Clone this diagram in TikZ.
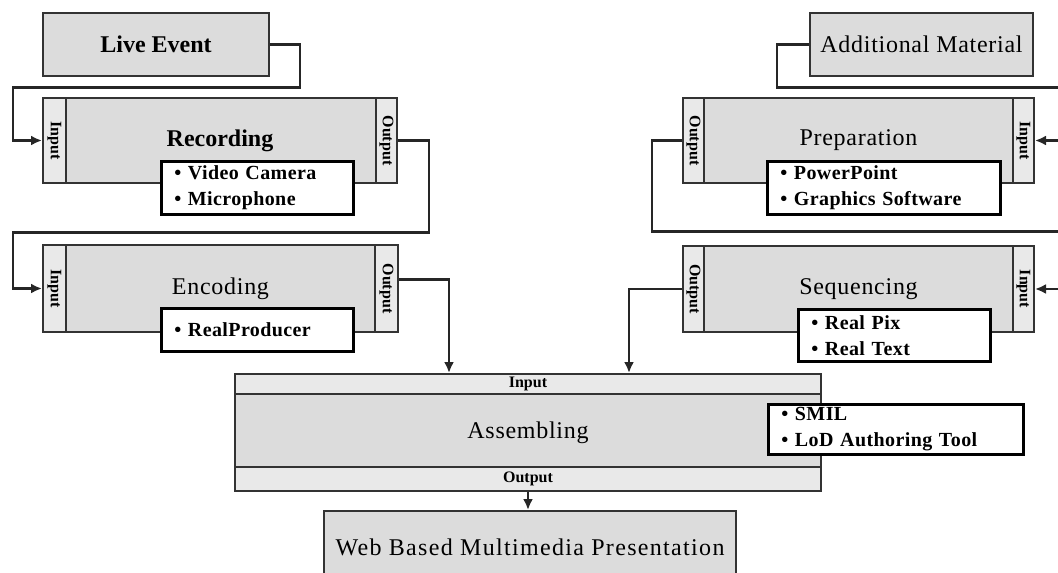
\documentclass[tikz,border=0pt]{standalone}
\usepackage{fontspec}
\usepackage{graphicx}
\setmainfont{Liberation Serif}
\usetikzlibrary{arrows.meta}
\definecolor{boxfill}{HTML}{DCDCDC}
\definecolor{stripfill}{HTML}{E9E9E9}
\definecolor{edge}{HTML}{333333}
\tikzset{
  box/.style={draw=edge, line width=2pt, fill=boxfill, anchor=north west, inner sep=0pt,
    font=\fontsize{24}{28}\selectfont\addfontfeature{LetterSpace=3}},
  strip/.style={draw=edge, line width=2pt, fill=stripfill, anchor=north west, inner sep=0pt,
    font=\bfseries\fontsize{16}{17}\selectfont},
  bullbox/.style={draw=black, line width=2.6pt, fill=white, anchor=north west, inner xsep=13pt,
    inner ysep=0pt, align=left, font=\bfseries\fontsize{20}{26}\selectfont\addfontfeature{LetterSpace=2}},
  conn/.style={draw=black!85, line width=2.6pt},
  arr/.style={conn, -{Latex[length=11pt,width=10pt]}},
}
\begin{document}
\begin{tikzpicture}[x=1pt,y=-1pt]
\useasboundingbox (0,0) rectangle (1058,573);
\clip (0,0) rectangle (1058,573);
% main boxes
\node[box, minimum width=226pt, minimum height=63pt, font=\bfseries\fontsize{24}{28}\selectfont] (live) at (42,12) {Live Event};
\node[box, minimum width=223pt, minimum height=63pt] (addmat) at (809,12) {Additional Material};
\node[box, minimum width=354pt, minimum height=85pt, font=\bfseries\fontsize{24}{28}\selectfont] (rec) at (42,97) {Recording};
\node[box, minimum width=355pt, minimum height=87pt] (enc) at (42,244) {Encoding};
\node[box, minimum width=351pt, minimum height=85pt] (prep) at (682,97) {Preparation};
\node[box, minimum width=351pt, minimum height=86pt] (seq) at (682,245) {Sequencing};
\node[box, minimum width=586pt, minimum height=117pt] (asm) at (234,373) {Assembling};
\node[box, minimum width=412pt, minimum height=72pt, font=\fontsize{24}{28}\selectfont\addfontfeature{LetterSpace=5.5}] (web) at (323,510) {Web Based Multimedia Presentation};
% strips
\node[strip, minimum width=23pt, minimum height=85pt] (recin) at (42,97) {\rotatebox{-90}{Input}};
\node[strip, minimum width=21pt, minimum height=85pt] (recout) at (375,97) {\rotatebox{-90}{Output}};
\node[strip, minimum width=23pt, minimum height=87pt] (encin) at (42,244) {\rotatebox{-90}{Input}};
\node[strip, minimum width=23pt, minimum height=87pt] (encout) at (374,244) {\rotatebox{-90}{Output}};
\node[strip, minimum width=21pt, minimum height=85pt] (prepout) at (682,97) {\rotatebox{-90}{Output}};
\node[strip, minimum width=21pt, minimum height=85pt] (prepin) at (1012,97) {\rotatebox{-90}{Input}};
\node[strip, minimum width=21pt, minimum height=86pt] (seqout) at (682,245) {\rotatebox{-90}{Output}};
\node[strip, minimum width=21pt, minimum height=86pt] (seqin) at (1012,245) {\rotatebox{-90}{Input}};
\node[strip, minimum width=586pt, minimum height=20pt] (asmin) at (234,373) {Input};
\node[strip, minimum width=586pt, minimum height=24pt] (asmout) at (234,466) {Output};
% bullet boxes
\node[bullbox, text width=166pt, minimum height=53pt] (recb) at (160,160) {\textbullet\ Video Camera\\\textbullet\ Microphone};
\node[bullbox, text width=166pt, minimum height=43pt] (encb) at (160,307) {\textbullet\ RealProducer};
\node[bullbox, text width=207pt, minimum height=53pt] (prepb) at (766,160) {\textbullet\ PowerPoint\\\textbullet\ Graphics Software};
\node[bullbox, text width=166pt, minimum height=52pt] (seqb) at (797,308) {\textbullet\ Real Pix\\\textbullet\ Real Text};
\node[bullbox, text width=229pt, minimum height=50pt] (asmb) at (767,403) {\textbullet\ SMIL\\\textbullet\ LoD Authoring Tool};
% connectors
\draw[arr] (live.east) -- ++(30,0) -- ++(0,43) -| ([xshift=-29pt]recin.west) -- (recin.west);
\draw[arr] (recout.east) -- ++(31,0) -- ++(0,92) -| ([xshift=-29pt]encin.west) -- (encin.west);
\draw[arr] ([yshift=9pt]encout.east) -| ([xshift=-79pt]asm.north);
\draw[arr] (addmat.west) -- ++(-32,0) -- ++(0,43) -| ([xshift=30pt]prepin.east) -- (prepin.east);
\draw[arr] (prepout.west) -- ++(-30,0) -- ++(0,91) -| ([xshift=30pt]seqin.east) -- (seqin.east);
\draw[arr] (seqout.west) -| ([xshift=101pt]asm.north);
\draw[arr] (asmout.south) -- (asmout.south |- web.north);
\end{tikzpicture}
\end{document}
